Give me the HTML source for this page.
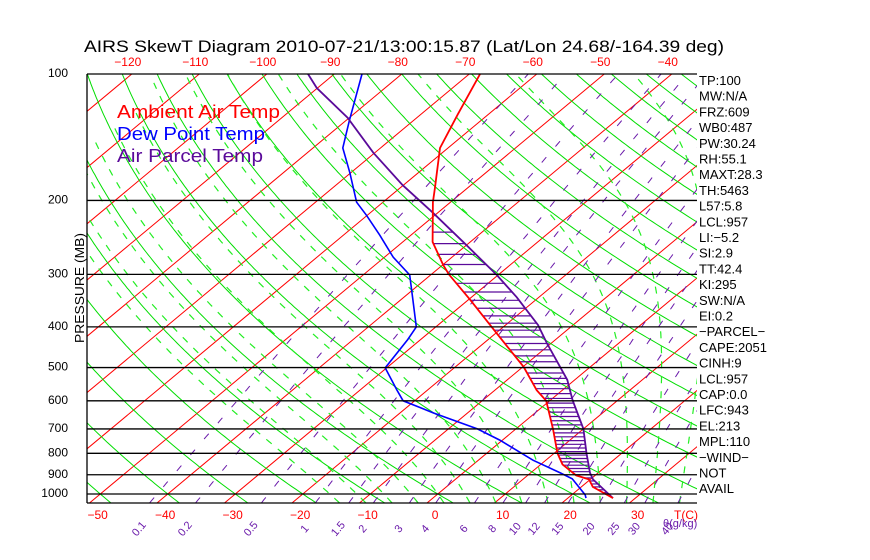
<!DOCTYPE html>
<html><head><meta charset="utf-8"><style>
body{margin:0;background:#fff;}
svg{display:block;font-family:"Liberation Sans",sans-serif;}
</style></head><body>
<svg id="c" width="870" height="560" xmlns="http://www.w3.org/2000/svg">
<defs><clipPath id="pc"><rect x="87" y="74" width="610" height="429"/></clipPath></defs>
<text x="84" y="52" font-size="16.5" fill="#000" textLength="640" lengthAdjust="spacingAndGlyphs">AIRS SkewT Diagram 2010-07-21/13:00:15.87 (Lat/Lon 24.68/-164.39 deg)</text>
<g id="grid" clip-path="url(#pc)"></g>
<g id="data" clip-path="url(#pc)"></g>
<g id="axes"></g>
<text x="117" y="118" font-size="18" fill="#ff0000" textLength="163" lengthAdjust="spacingAndGlyphs">Ambient Air Temp</text>
<text x="117" y="140" font-size="18" fill="#0000ff" textLength="148" lengthAdjust="spacingAndGlyphs">Dew Point Temp</text>
<text x="117" y="162" font-size="18" fill="#5a0a9a" textLength="146" lengthAdjust="spacingAndGlyphs">Air Parcel Temp</text>
<text transform="translate(84,288) rotate(-90)" text-anchor="middle" font-size="13" fill="#000" textLength="110" lengthAdjust="spacingAndGlyphs">PRESSURE (MB)</text>
</svg>
<script>
const tempP=[100,125,150,187,202,251,285,300,345,414,498,566,600,700,800,850,903,923,962,1023];
const tempT=[-68.4,-64.5,-61.2,-54.8,-52.6,-45.6,-39.9,-37.4,-29.7,-19.9,-9.9,-3.8,-0.5,5.5,10.5,13.2,17.2,19.8,21.7,26.7];
const dewP=[100,129,150,172,202,217,242,273,301,345,400,429,501,566,600,623,641,700,744,831,891,920,1005,1023];
const dewT=[-85.9,-79.5,-75.6,-70.1,-63.9,-60.1,-54.6,-48.7,-43.1,-38.2,-32.9,-31.9,-30.2,-24.5,-21.7,-17.9,-15.1,-5.7,-0.4,8.1,14.4,17.2,22.0,22.7];
const parP=[100,108,127,154,184,214,253,301,340,396,437,535,598,700,800,891,923,1023];
const parT=[-93.9,-90.1,-80.3,-70.2,-60.1,-50.7,-40.6,-30.2,-23.3,-15.2,-10.7,-1.1,3.3,10.0,14.8,18.8,20.4,26.7];
const pressureTicks=[100,200,300,400,500,600,700,800,900,1000];
const bottomTicks=[-50,-40,-30,-20,-10,0,10,20,30];
const topTicks=[-120,-110,-100,-90,-80,-70,-60,-50,-40];
const mixRatios=[0.1,0.2,0.5,1,1.5,2,3,4,6,8,10,12,15,20,25,30,40];
const statLabels=["TP:100","MW:N/A","FRZ:609","WB0:487","PW:30.24","RH:55.1","MAXT:28.3","TH:5463","L57:5.8","LCL:957","LI:\u22125.2","SI:2.9","TT:42.4","KI:295","SW:N/A","EI:0.2","\u2212PARCEL\u2212","CAPE:2051","CINH:9","LCL:957","CAP:0.0","LFC:943","EL:213","MPL:110","\u2212WIND\u2212","NOT","AVAIL"];

const NS="http://www.w3.org/2000/svg";
function yP(p){return 74+420*Math.log10(p/100);}
function xT(t,p){return 427+6.75*t+1.2*(503-yP(p));}
function mk(tag,attrs,parent){const e=document.createElementNS(NS,tag);for(const k in attrs)e.setAttribute(k,attrs[k]);parent.appendChild(e);return e;}
const grid=document.getElementById('grid'),data=document.getElementById('data'),axes=document.getElementById('axes');
function polyStr(ps){return ps.map(q=>q[0].toFixed(1)+','+q[1].toFixed(1)).join(' ');}
const pl=[];for(let p=1050;p>=100;p*=0.985)pl.push(p);pl.push(100);

for(let t=-170;t<=50;t+=10){
  const l=mk('line',{x1:xT(t,1050),y1:yP(1050),x2:xT(t,100),y2:yP(100),stroke:'#ff0000','stroke-width':1},grid);
  
  
}
for(let t0=-100;t0<=220;t0+=10){
  const th=t0+273.15;
  const pts=pl.map(p=>[xT(th*Math.pow(p/1000,0.286)-273.15,p),yP(p)]);
  const e=mk('polyline',{points:polyStr(pts),fill:'none',stroke:'#00dd00','stroke-width':1},grid);
  
  
}
function es(t){return 6.112*Math.exp(17.67*t/(t+243.5));}
for(let t0=-16;t0<=44;t0+=4){
  let T=t0+273.15,p=1000;const up=[],dn=[];
  const f=(T,p)=>{const rs=0.622*es(T-273.15)/(p-es(T-273.15));return (287*T+2.5e6*rs)/(1004+2.5e6*2.5e6*rs*0.622/(287*T*T))/p;};
  up.push([xT(T-273.15,p),yP(p)]);
  for(p=1000;p>100;p-=5){T-=f(T,p)*5;up.push([xT(T-273.15,p-5),yP(p-5)]);if(T<160)break;}
  T=t0+273.15;for(p=1000;p<1050;p+=5){T+=f(T,p)*5;dn.push([xT(T-273.15,p+5),yP(p+5)]);}
  const pts=dn.reverse().concat(up);
  const e=mk('polyline',{points:polyStr(pts),fill:'none',stroke:'#22ee22','stroke-width':1.2,'stroke-dasharray':'7,8'},grid);
  
  
}
function tdW(w,p){const e=w*p/(622+w);const l=Math.log(e/6.112);return 243.5*l/(17.67-l);}
mixRatios.forEach(w=>{
  const pts=pl.map(p=>[xT(tdW(w,p),p),yP(p)]);
  const e=mk('polyline',{points:polyStr(pts),fill:'none',stroke:'#6a1aaa','stroke-width':1,'stroke-dasharray':'7,14'},grid);
  
  
  const x=xT(tdW(w,1050),1050)-8;
  const t=mk('text',{transform:`translate(${x.toFixed(1)},531) rotate(-50)`,'font-size':11,fill:'#6a1aaa','text-anchor':'middle'},axes);
  t.textContent=String(w);
  
  
});
pressureTicks.forEach(p=>{
  const l=mk('line',{x1:87,y1:yP(p),x2:697,y2:yP(p),stroke:'#000','stroke-width':1.3},axes);
  
  
  const t=mk('text',{x:68,y:yP(p)+3,'font-size':12,'text-anchor':'end',fill:'#000'},axes);
  t.textContent=String(p);
  
  
});
const bl=mk('line',{x1:87,y1:503,x2:697,y2:503,stroke:'#000','stroke-width':1.3},axes);


const ll=mk('line',{x1:87,y1:74,x2:87,y2:503,stroke:'#000','stroke-width':1.3},axes);


bottomTicks.forEach(t=>{
  const e=mk('text',{x:xT(t,1050)+8,y:519,'font-size':12,fill:'#ff0000','text-anchor':'middle'},axes);
  e.textContent=(t<0?'\u2212':'')+Math.abs(t);
  
  
});
const tc=mk('text',{x:686,y:519,'font-size':12,fill:'#ff0000','text-anchor':'middle'},axes);
tc.textContent='T(C)';


const gk=mk('text',{x:663,y:527,'font-size':11,fill:'#6a1aaa'},axes);
gk.textContent='\u03B8(g/kg)';


topTicks.forEach(t=>{
  const e=mk('text',{x:xT(t,100)-4,y:66,'font-size':12,fill:'#ff0000','text-anchor':'middle'},axes);
  e.textContent='\u2212'+Math.abs(t);
  
  
});
statLabels.forEach((s,i)=>{
  const e=mk('text',{x:699,y:85+i*15.7,'font-size':13,fill:'#000'},axes);
  e.textContent=s;
  
  
});
function interp(P,T,p){for(let i=0;i<P.length-1;i++){if(p>=P[i]&&p<=P[i+1]){const f=(Math.log(p)-Math.log(P[i]))/(Math.log(P[i+1])-Math.log(P[i]));return T[i]+f*(T[i+1]-T[i]);}}return null;}
for(let p=238;p<=1010;p+=15.4){
  const a=interp(tempP,tempT,p),b=interp(parP,parT,p);
  if(a==null||b==null)continue;
  const xa=xT(a,p),xb=xT(b,p);
  if(Math.abs(xb-xa)<1)continue;
  const l=mk('line',{x1:xa,y1:yP(p),x2:xb,y2:yP(p),stroke:xb>xa?'#5a0a9a':'#ff0000','stroke-width':1.2},data);
  
  
}
function series(P,T,col,name,w){
  const pts=P.map((p,i)=>[xT(T[i],p),yP(p)]);
  const e=mk('polyline',{points:polyStr(pts),fill:'none',stroke:col,'stroke-width':w},data);
  
  
}
series(dewP,dewT,'#0000ff','dew-point-line',1.6);
series(parP,parT,'#5a0a9a','parcel-line',1.8);
series(tempP,tempT,'#ff0000','ambient-temp-line',1.8);
</script>
</body></html>
